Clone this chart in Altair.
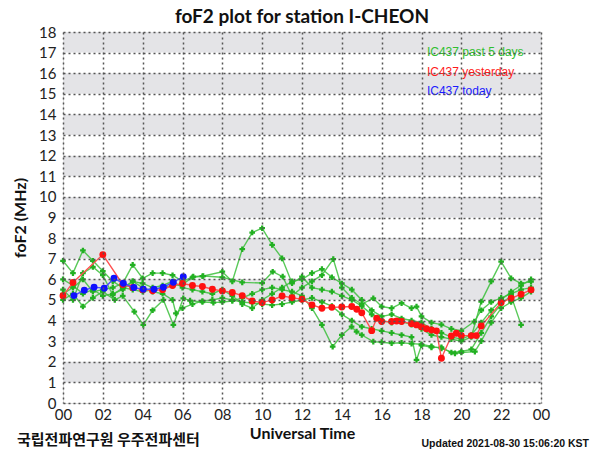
import altair as alt
import pandas as pd

# ---------------- data ----------------
title_text = "foF2 plot for station I-CHEON"
y_title = "foF2 (MHz)"
x_title = "Universal Time"
footer_left = "국립전파연구원 우주전파센터"
footer_right = "Updated 2021-08-30 15:06:20 KST"

x_ticks = list(range(0, 25, 2))
y_ticks = list(range(0, 19))
band_lo = [1, 3, 5, 7, 9, 11, 13, 15, 17]

legend_labels = ["IC437 past 5 days", "IC437 yesterday", "IC437 today"]
legend_colors = ["#2fbf2f", "#ff1a1a", "#1a1aff"]
legend_h = [18.27, 18.27, 18.27]
legend_v = [17.04, 16.07, 15.15]

# past 5 days (green)
g1_h = [0, 0.5, 1.0, 1.5, 2.0, 2.5, 3.0, 3.5, 4.0, 4.5, 5.0, 5.5, 6.0, 6.5, 7.0, 8.0, 8.5, 9.0, 9.5, 10.0,
        10.5, 11.0, 11.5, 12.0, 12.5, 13.0, 13.5, 14.0, 14.5, 15.0, 15.5, 16.0, 16.5, 17.0, 17.5, 18.0,
        18.5, 19.0, 19.5, 20.0, 20.5, 21.0, 21.5, 22.0, 22.5, 23.0, 23.5]
g1_v = [6.9, 6.3, 7.4, 6.9, 6.4, 5.9, 5.6, 5.5, 5.4, 5.5, 5.6, 5.7, 5.75, 6.1, 6.15, 6.37, 5.9, 7.46, 8.27, 8.48,
        7.67, 7.02, 5.81, 6.13, 5.6, 5.5, 5.4, 5.2, 5.0, 4.7, 4.3, 4.0, 3.9, 3.95, 3.8, 3.6,
        3.3, 3.2, 3.1, 3.0, 3.2, 4.92, 5.9, 6.86, 6.05, 5.8, 5.89]

g2_h = [0, 0.5, 1.0, 1.5, 2.0, 2.6, 3.0, 3.58, 4.03, 4.5, 5.04, 5.54, 6.04, 6.38, 7.0, 7.55, 8.0, 8.5, 9.0,
        9.5, 10.0, 10.5, 11.0, 11.5, 12.0, 12.5, 13.0, 13.54, 14.0, 14.49, 14.74, 15.0, 15.58, 16.0, 16.5,
        17.0, 17.5, 18.0, 18.5, 19.0, 19.68, 20.0, 20.68, 21.0, 21.5, 22.0, 22.5, 23.0, 23.5]
g2_v = [5.0, 5.3, 4.68, 5.1, 5.4, 5.0, 5.2, 4.43, 3.79, 4.5, 5.0, 3.79, 5.08, 4.97, 4.9, 4.87, 4.9, 4.95, 5.1,
        5.3, 5.5, 5.6, 5.5, 5.4, 5.2, 4.6, 3.79, 2.73, 3.3, 3.7, 3.46, 3.3, 2.98, 2.95, 2.9,
        2.92, 2.88, 2.85, 2.75, 2.65, 2.41, 2.45, 2.49, 3.0, 3.9, 4.6, 4.9, 5.1, 5.4]

g3_h = [0, 0.5, 1.0, 1.5, 2.0, 2.5, 3.0, 3.5, 4.0, 4.5, 5.0, 5.5, 6.0, 6.54, 7.04, 8.0, 9.0, 10.0, 10.53,
        11.03, 11.5, 12.0, 12.5, 13.0, 13.57, 14.0, 14.5, 15.0, 15.58, 16.0, 16.5, 17.0, 17.5, 17.75, 18.0,
        18.5, 19.0, 19.5, 20.0, 20.65, 21.0, 21.5, 22.0, 22.5, 23.0, 23.5]
g3_v = [5.3, 5.6, 6.0, 5.4, 5.5, 5.6, 5.8, 6.7, 6.05, 6.3, 6.3, 6.2, 5.9, 6.13, 6.16, 6.1, 5.85, 5.82, 6.37,
        6.13, 5.2, 5.6, 5.9, 6.2, 6.98, 5.6, 5.1, 4.8, 5.08, 4.68, 4.6, 4.84, 4.6, 4.68, 4.2,
        3.9, 3.8, 3.6, 3.5, 3.95, 4.5, 4.9, 5.1, 5.3, 5.5, 5.6]

g4_h = [0, 0.5, 1.0, 1.5, 2.0, 2.5, 3.0, 3.5, 4.0, 4.5, 5.0, 5.5, 5.67, 6.0, 6.5, 7.0, 7.5, 8.0, 8.5, 9.0,
        9.5, 10.0, 10.5, 11.0, 11.5, 12.0, 12.5, 13.0, 13.5, 14.0, 14.5, 15.0, 15.5, 16.0, 16.5, 17.0,
        17.5, 17.75, 18.0, 18.5, 19.0, 19.5, 20.0, 20.5, 21.0, 21.5, 22.0, 22.5, 23.0]
g4_v = [6.0, 5.7, 5.3, 5.5, 5.2, 5.3, 5.5, 5.9, 5.6, 5.4, 5.3, 5.0, 4.35, 4.6, 4.8, 4.95, 5.0, 5.1, 5.0, 4.9,
        4.85, 4.8, 4.75, 4.8, 4.9, 5.0, 5.1, 4.9, 4.7, 4.3, 4.0, 3.7, 3.6, 3.5, 3.4, 3.3,
        3.2, 2.09, 2.8, 2.7, 2.7, 2.45, 2.5, 2.6, 3.4, 4.2, 4.8, 5.2, 3.79]

g5_h = [0, 0.5, 1.0, 1.5, 2.0, 2.5, 3.0, 3.5, 4.0, 4.5, 5.0, 5.5, 6.0, 6.5, 7.0, 7.5, 8.0, 8.5, 9.0, 9.5,
        10.0, 10.5, 11.0, 11.5, 12.0, 12.5, 13.0, 13.5, 14.0, 14.5, 15.0, 15.5, 16.0, 16.5, 17.0, 17.5,
        18.0, 18.5, 19.0, 19.5, 20.0, 20.5, 21.0, 21.5, 22.0, 22.5, 23.0, 23.5]
g5_v = [5.5, 5.0, 6.3, 6.6, 6.2, 5.24, 5.6, 5.9, 5.8, 5.6, 5.7, 5.9, 5.6, 5.5, 5.4, 5.3, 5.5, 5.2, 4.8, 4.6,
        5.0, 5.3, 5.6, 5.9, 6.0, 6.3, 6.5, 6.1, 5.8, 5.5, 5.0, 4.5, 4.2, 4.3, 4.1, 4.0,
        3.9, 3.6, 3.4, 3.2, 3.1, 3.3, 3.9, 4.5, 5.0, 5.4, 5.7, 6.0]

# yesterday (red)
red_h = [0.0, 0.5, 2.0, 3.0, 3.5, 4.0, 4.5, 5.0, 5.5, 6.0, 6.5, 7.0, 7.5, 8.0, 8.5, 9.0, 9.5, 10.0, 10.5,
         11.0, 11.5, 12.0, 12.5, 13.0, 13.5, 14.0, 14.5, 14.75, 15.0, 15.5, 15.75, 16.0, 16.5, 16.75, 17.0,
         17.5, 17.75, 18.0, 18.25, 18.5, 18.75, 19.0, 19.5, 19.75, 20.0, 20.5, 20.75, 21.0, 22.0, 22.5,
         23.0, 23.5]
red_v = [5.2, 5.85, 7.2, 5.75, 5.6, 5.5, 5.45, 5.5, 5.7, 5.8, 5.7, 5.65, 5.52, 5.44, 5.36, 5.21, 4.95, 4.87, 5.0,
         5.19, 5.11, 5.03, 4.76, 4.6, 4.64, 4.66, 4.68, 4.55, 4.38, 3.51, 4.11, 3.95, 3.95, 3.98, 3.95,
         3.85, 3.79, 3.7, 3.6, 3.54, 3.5, 2.17, 3.25, 3.38, 3.27, 3.27, 3.27, 3.74, 4.87, 5.08,
         5.28, 5.49]

# today (blue)
blue_h = [0.55, 1.07, 1.56, 2.07, 2.56, 3.03, 3.56, 4.03, 4.57, 5.04, 5.54, 6.04]
blue_v = [5.21, 5.47, 5.62, 5.57, 6.05, 5.81, 5.6, 5.52, 5.52, 5.62, 5.86, 6.13]

# ---------------- tables ----------------
green_frames = []
for day, (hh, vv) in enumerate([(g1_h, g1_v), (g2_h, g2_v), (g3_h, g3_v), (g4_h, g4_v), (g5_h, g5_v)]):
    green_frames.append(pd.DataFrame({"h": hh, "v": vv, "day": day}))
green_df = pd.concat(green_frames, ignore_index=True)
red_df = pd.DataFrame({"h": red_h, "v": red_v})
blue_df = pd.DataFrame({"h": blue_h, "v": blue_v})
band_df = pd.DataFrame({"h": 0, "h2": 24, "v": band_lo, "v2": [b + 1 for b in band_lo]})
legend_df = pd.DataFrame({"h": legend_h, "v": legend_v, "t": legend_labels, "c": legend_colors})

FONT = "Lato"
xs = alt.Scale(domain=[0, 24], nice=False, zero=False)
ys = alt.Scale(domain=[0, 18], nice=False, zero=False)

x_axis = alt.Axis(
    values=x_ticks,
    labelExpr="(datum.value % 24) < 10 ? '0' + (datum.value % 24) : '' + datum.value",
    title=x_title, grid=True, gridDash=[2, 3], gridColor="#555", gridWidth=1.5,
    domain=False, ticks=False, labelFont=FONT, labelFontSize=15, labelColor="#222",
    labelPadding=4, labelFlush=False, labelOverlap=False,
    titleFont=FONT, titleFontSize=16, titleFontWeight="bold", titleColor="#111",
    titlePadding=3, zindex=1,
)
y_axis = alt.Axis(
    values=y_ticks, title=y_title, grid=True, gridDash=[2, 3], gridColor="#555", gridWidth=1.5,
    domain=False, ticks=False, labelFont=FONT, labelFontSize=15, labelColor="#222",
    labelPadding=7, labelOverlap=False,
    titleFont=FONT, titleFontSize=16, titleFontWeight="bold", titleColor="#111",
    titlePadding=10, zindex=1,
)

X = alt.X("h:Q", scale=xs, axis=x_axis)
Y = alt.Y("v:Q", scale=ys, axis=y_axis)

bands = alt.Chart(band_df).mark_rect(color="#e4e4e7").encode(x=X, x2="h2:Q", y=Y, y2="v2:Q")

GREEN = "#3cbf3c"
green_line = alt.Chart(green_df).mark_line(color=GREEN, strokeWidth=1.4, opacity=0.85).encode(
    x=X, y=Y, detail="day:N"
)
green_pts = alt.Chart(green_df).mark_point(shape="cross", filled=True, color="#22b022", size=32, opacity=1).encode(
    x=X, y=Y
)
red_line = alt.Chart(red_df).mark_line(color="#ff5050", strokeWidth=1.4).encode(x=X, y=Y)
red_pts = alt.Chart(red_df).mark_point(shape="circle", filled=True, color="#ff1010", size=48, opacity=1).encode(
    x=X, y=Y
)
blue_line = alt.Chart(blue_df).mark_line(color="#4a4aff", strokeWidth=1.4).encode(x=X, y=Y)
blue_pts = alt.Chart(blue_df).mark_point(shape="circle", filled=True, color="#1010ff", size=48, opacity=1).encode(
    x=X, y=Y
)

legend_txt = alt.Chart(legend_df).mark_text(
    align="left", baseline="middle", font="Liberation Sans", fontSize=12
).encode(x=X, y=Y, text="t:N", color=alt.Color("c:N", scale=None))

title_mark = alt.Chart(pd.DataFrame({"t": [title_text]})).mark_text(
    align="center", baseline="alphabetic", font=FONT, fontSize=19, fontWeight="bold", color="#111"
).encode(text="t:N", x=alt.value(239), y=alt.value(-9))

foot_l = alt.Chart(pd.DataFrame({"t": [footer_left]})).mark_text(
    align="left", baseline="middle", font="Noto Sans CJK KR", fontSize=15, fontWeight="bold", color="#111"
).encode(text="t:N", x=alt.value(-46), y=alt.value(408))

foot_r = alt.Chart(pd.DataFrame({"t": [footer_right]})).mark_text(
    align="right", baseline="middle", font="Liberation Sans", fontSize=10.5, fontWeight="bold", color="#111"
).encode(text="t:N", x=alt.value(526), y=alt.value(412))

chart = alt.layer(
    bands, green_line, green_pts, red_line, red_pts, blue_line, blue_pts, legend_txt,
    title_mark, foot_l, foot_r
).properties(
    width=478, height=371,
    padding={"left": 55, "top": 24, "right": 50, "bottom": 50},
    autosize=alt.AutoSizeParams(type="none"),
).configure_view(
    fill="#f0f0f2", stroke="#333", strokeWidth=2
).configure(background="white")

chart.save("out.html", embed_options={"renderer": "svg", "actions": False})
